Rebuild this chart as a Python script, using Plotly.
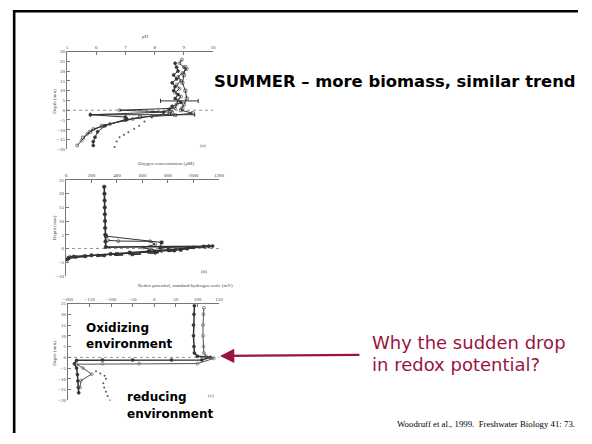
import plotly.graph_objects as go

# page is offset by the browser's default 8px body margin on every side;
# size the figure to fit inside it so that no scrollbar appears
OFF = 8
W, H = 592 - 2 * OFF, 444 - 2 * OFF

# ---------------- data ----------------
# Panel (a): pH profiles (depth mm)
ph_depth_a1 = [25.8, 24, 22, 21, 19, 17, 15, 13, 11, 9, 7, 5, 3, 1, 0, -1, -2, -3, -4.5, -7, -9.6, -12, -15.5, -18]
ph_a1 = [8.93, 8.85, 9.0, 9.1, 8.95, 8.8, 8.9, 8.75, 8.85, 8.7, 8.9, 8.8, 8.75, 8.7, 6.8, 8.6, 8.5, 7.9, 7.25, 6.47, 5.9, 5.7, 5.5, 5.35]
ph_depth_a2 = [24, 22, 20, 18, 16, 14, 12, 10, 8, 6, 4, 2, 0.5, -1, -2.3, -3.5, -4.5, -8, -11, -13.8, -16, -18]
ph_a2 = [8.7, 8.75, 8.8, 8.65, 8.75, 8.6, 8.7, 8.65, 8.8, 8.7, 8.9, 8.6, 8.5, 8.3, 5.8, 7.0, 7.05, 6.3, 6.05, 5.96, 5.9, 5.9]
ph_depth_a3 = [22, 18, 14, 10, 6, 3, 1, 0, -1.5, -2.5, -3.5, -5, -8, -11, -14]
ph_a3 = [9.05, 9.0, 8.95, 9.05, 9.1, 9.0, 8.95, 8.9, 9.3, 8.7, 7.5, 7.0, 6.2, 5.8, 5.55]
ph_depth_dot = [-0.3, -1.1, -2.5, -3.7, -5.8, -7.9, -9.5, -11.2, -12.5, -13.8, -16, -18.8]
ph_dot = [8.6, 8.48, 8.2, 7.9, 7.65, 7.47, 7.3, 7.1, 6.95, 6.8, 6.7, 6.63]
ph_err_depth = [4.75, -2.3]
ph_err_lo = [8.2, 5.8]
ph_err_hi = [9.49, 9.37]

# Panel (b): oxygen profiles (µM)
ox_depth_b1 = [22.5, 20, 17.5, 15, 12.5, 10, 7.5, 5, 2.5, 0.5, 0.8, 0, -0.5, -1, -1.5, -2, -2.5, -3, -4]
ox_b1 = [300, 302, 303, 304, 305, 306, 307, 308, 310, 312, 1120, 950, 800, 650, 500, 350, 200, 60, 10]
ox_depth_b2 = [4.5, 2.2, 0.3, 0.7, -0.5, -1.2, -2, -2.8, -3.5]
ox_b2 = [315, 750, 740, 1080, 900, 650, 400, 150, 20]
ox_depth_b3 = [3, 2.7, 2.6, 1.5, 0.3, -1, -1.8, -2.5, -3]
ox_b3 = [330, 410, 660, 700, 600, 750, 500, 250, 30]
ox_depth_b4 = [0.9, 0.4, -0.8, -1.6, -2.2, -2.6, -3.1]
ox_b4 = [1150, 1000, 850, 700, 520, 300, 80]

# Panel (c): redox potential profiles (mV)
eh_depth_c1 = [24, 20, 15, 10, 5, 2, 0.5, 0, -1.2, -1.2, -1.2, -1.2, -1.4, -3, -5, -8, -11, -14, -16.5]
eh_c1 = [93, 92, 91, 91, 92, 93, 100, 130, 110, 40, -50, -120, -180, -185, -180, -178, -177, -176, -175]
eh_depth_c2 = [23, 20, 15, 10, 5, 2, 0.5, -0.5, -2.9, -2.9, -2.9, -3.2, -5, -7.8, -10.8, -14]
eh_c2 = [115, 114, 113, 113, 114, 115, 120, 138, 100, -35, -120, -180, -165, -145, -170, -172]
eh_depth_dot = [-6.5, -7.5, -8.5, -10, -12, -14, -16, -18, -20]
eh_dot = [-135, -125, -115, -112, -118, -116, -112, -108, -103]

# axis ticks
ph_ticks = [5, 6, 7, 8, 9, 10]
ox_ticks = [0, 200, 400, 600, 800, 1000, 1200]
eh_ticks = [-200, -150, -100, -50, 0, 50, 100, 150]
depth_ticks_a = [30, 25, 20, 15, 10, 5, 0, -5, -10, -15, -20]
depth_ticks_b = [25, 20, 15, 10, 5, 0, -5, -10]
depth_ticks_c = [25, 20, 15, 10, 5, 0, -5, -10, -15, -20]

# ---------------- figure ----------------
fig = go.Figure()
LC = "#333333"


def prof(x, y, xa, ya, dash="solid", size=3, symbol="circle", width=1, color=LC):
    fig.add_trace(go.Scatter(x=x, y=y, xaxis=xa, yaxis=ya, mode="lines+markers",
                             line=dict(color=color, width=width, dash=dash),
                             marker=dict(size=size, color=color, symbol=symbol,
                                         line=dict(width=0.6, color=color)),
                             showlegend=False, hoverinfo="skip"))


prof(ph_a1, ph_depth_a1, "x", "y", symbol="circle-open")
prof(ph_a2, ph_depth_a2, "x", "y")
prof(ph_a3, ph_depth_a3, "x", "y", symbol="square-open")
fig.add_trace(go.Scatter(x=ph_dot, y=ph_depth_dot, xaxis="x", yaxis="y", mode="markers",
                         marker=dict(size=2, color="#555"), showlegend=False, hoverinfo="skip"))
for d, lo, hi in zip(ph_err_depth, ph_err_lo, ph_err_hi):
    fig.add_trace(go.Scatter(x=[lo, hi], y=[d, d], xaxis="x", yaxis="y", mode="lines+markers",
                             line=dict(color=LC, width=1), marker=dict(size=3, symbol="line-ns-open", color=LC),
                             showlegend=False, hoverinfo="skip"))

prof(ox_b1, ox_depth_b1, "x2", "y2", size=3.5, width=1.6)
prof(ox_b2, ox_depth_b2, "x2", "y2", symbol="square", width=1)
prof(ox_b3, ox_depth_b3, "x2", "y2", symbol="circle-open")
prof(ox_b4, ox_depth_b4, "x2", "y2", dash="dash", width=1.6)

prof(eh_c1, eh_depth_c1, "x3", "y3", width=1.5)
prof(eh_c2, eh_depth_c2, "x3", "y3", symbol="circle-open", color="#555")
fig.add_trace(go.Scatter(x=eh_dot, y=eh_depth_dot, xaxis="x3", yaxis="y3", mode="markers",
                         marker=dict(size=2, color="#555"), showlegend=False, hoverinfo="skip"))


def px(x):
    return (x - OFF) / W


def py(y):
    return 1 - (y - OFF) / H


tickfont = dict(family="Liberation Serif", size=5, color="#444")
axcommon = dict(showline=True, linecolor="#777", linewidth=1, ticks="inside", ticklen=3,
                tickcolor="#777", showgrid=False, zeroline=False, tickfont=tickfont)

fig.update_layout(
    width=W, height=H, margin=dict(l=0, r=0, t=0, b=0),
    paper_bgcolor="white", plot_bgcolor="rgba(0,0,0,0)",
    xaxis=dict(domain=[px(63), px(212)], range=[5, 10], side="top", anchor="y",
               tickvals=ph_ticks, **axcommon),
    yaxis=dict(domain=[py(149), py(50)], range=[-20, 30], anchor="x",
               tickvals=depth_ticks_a, **axcommon),
    xaxis2=dict(domain=[px(62), px(218)], range=[0, 1200], side="top", anchor="y2",
                tickvals=ox_ticks, **axcommon),
    yaxis2=dict(domain=[py(277), py(180)], range=[-10, 25], anchor="x2",
                tickvals=depth_ticks_b, **axcommon),
    xaxis3=dict(domain=[px(64), px(218)], range=[-200, 150], side="top", anchor="y3",
                tickvals=eh_ticks, **axcommon),
    yaxis3=dict(domain=[py(403), py(305)], range=[-20, 25], anchor="x3",
                tickvals=depth_ticks_c, **axcommon),
)

# zero lines (dotted)
for xr, yr in [("x domain", "y"), ("x2 domain", "y2"), ("x3 domain", "y3")]:
    fig.add_shape(type="line", xref=xr, yref=yr, x0=0, x1=1, y0=0, y1=0,
                  line=dict(color="#777", width=0.8, dash="dot"), layer="below")

# slide frame (top and left rules), drawn at the figure's top-left edges
fig.add_shape(type="line", xref="paper", yref="paper", x0=0, x1=1, y0=1 - 1.2 / H, y1=1 - 1.2 / H,
              line=dict(color="black", width=2.6))
fig.add_shape(type="line", xref="paper", yref="paper", x0=1.2 / W, x1=1.2 / W, y0=1, y1=0,
              line=dict(color="black", width=2.6))

small = dict(family="Liberation Serif", size=5, color="#444")
ann = []
ann.append(dict(x=px(137), y=py(35), text="pH", font=small))
ann.append(dict(x=px(133), y=py(163), text="Oxygen concentration (µM)", font=small))
ann.append(dict(x=px(133), y=py(287), text="Redox potential, standard hydrogen scale (mV)", font=small))
for yy in [100, 228, 355]:
    ann.append(dict(x=px(46), y=py(yy), text="Depth (mm)", font=small, textangle=-90))
ann.append(dict(x=px(202), y=py(145), text="(a)", font=small))
ann.append(dict(x=px(203), y=py(273), text="(b)", font=small))
ann.append(dict(x=px(210), y=py(398), text="(c)", font=small))

bold = dict(family="DejaVu Sans", size=16.4, color="black")
ann.append(dict(x=px(211), y=py(80), text="<b>SUMMER – more biomass, similar trend</b>", font=bold,
                xanchor="left"))
lab = dict(family="DejaVu Sans", size=12, color="black")
ann.append(dict(x=px(80), y=py(330), text="<b>Oxidizing</b>", font=lab, xanchor="left"))
ann.append(dict(x=px(80), y=py(346), text="<b>environment</b>", font=lab, xanchor="left"))
ann.append(dict(x=px(122), y=py(400), text="<b>reducing</b>", font=lab, xanchor="left"))
ann.append(dict(x=px(122), y=py(417), text="<b>environment</b>", font=lab, xanchor="left"))
red = dict(family="DejaVu Sans", size=18, color="#99153f")
ann.append(dict(x=px(372), y=py(344), text="Why the sudden drop", font=red, xanchor="left"))
ann.append(dict(x=px(372), y=py(367), text="in redox potential?", font=red, xanchor="left"))
ann.append(dict(x=px(397), y=py(427), text="Woodruff et al., 1999.  Freshwater Biology 41: 73.",
                font=dict(family="Liberation Serif", size=8.8, color="black"), xanchor="left"))

for a in ann:
    a.setdefault("xref", "paper")
    a.setdefault("yref", "paper")
    a.setdefault("showarrow", False)
    a.setdefault("yanchor", "middle")
    fig.add_annotation(**a)

# arrow (tail offset given in pixels relative to the head)
fig.add_annotation(x=px(219), y=py(358), ax=141, ay=-1, xref="paper", yref="paper",
                   axref="pixel", ayref="pixel", text="", showarrow=True, arrowhead=2,
                   arrowsize=1.3, arrowwidth=2.2, arrowcolor="#99153f")

fig.write_html("out.html")
